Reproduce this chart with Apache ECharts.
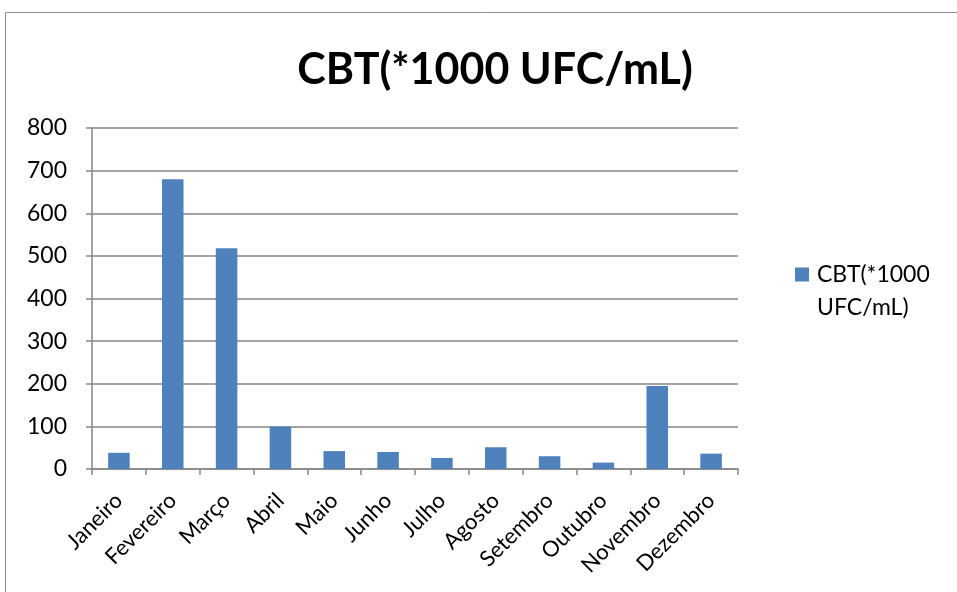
<!DOCTYPE html>
<html>
<head>
<meta charset="utf-8">
<script src="https://cdn.jsdelivr.net/npm/echarts@6/dist/echarts.min.js"></script>
<style>html,body{margin:0;padding:0;background:#fff}#c{width:957px;height:592px}</style>
</head>
<body>
<div id="c"></div>
<script>
const categories = ['Janeiro','Fevereiro','Março','Abril','Maio','Junho','Julho','Agosto','Setembro','Outubro','Novembro','Dezembro'];
const values = [38, 680, 518, 100, 42, 40, 26, 51, 30, 15, 195, 36];
const seriesName = 'CBT(*1000 UFC/mL)';
const yTicks = {min: 0, max: 800, interval: 100};

const FONT = 'Lato, "Open Sans", sans-serif';
const chart = echarts.init(document.getElementById('c'));
chart.setOption({
  animation: false,
  backgroundColor: '#fff',
  graphic: [{
    type: 'rect', shape: {x: 5.5, y: 12.5, width: 1200, height: 1200},
    style: {fill: 'none', stroke: '#8c8c8c', lineWidth: 1}, silent: true, z: -1
  }],
  title: {
    text: seriesName, left: 490, top: 44, textAlign: 'center',
    textStyle: {fontFamily: FONT, fontWeight: 'bold', fontSize: 43, color: '#000'}
  },
  legend: {
    left: 795, top: 225, orient: 'vertical', padding: 0,
    icon: 'rect', itemWidth: 14, itemHeight: 14, itemGap: 5,
    formatter: () => '\nCBT(*1000\nUFC/mL)',
    textStyle: {fontFamily: FONT, fontSize: 23, color: '#000', lineHeight: 33, padding: [0, 0, 0, 3]}
  },
  grid: {left: 92, right: 219, top: 128, bottom: 123, containLabel: false},
  xAxis: {
    type: 'category', data: categories,
    axisLine: {lineStyle: {color: '#868686', width: 1.5}},
    axisTick: {show: true, length: 6, alignWithLabel: false, lineStyle: {color: '#868686', width: 1.5}},
    axisLabel: {rotate: 45, interval: 0, margin: 28, fontFamily: FONT, fontSize: 22, color: '#000'}
  },
  yAxis: {
    type: 'value', min: yTicks.min, max: yTicks.max, interval: yTicks.interval,
    axisLine: {show: true, lineStyle: {color: '#868686', width: 1.5}},
    axisTick: {show: true, length: 6, lineStyle: {color: '#868686', width: 1.5}},
    splitLine: {show: true, lineStyle: {color: '#868686', width: 1.5}},
    axisLabel: {margin: 25, fontFamily: FONT, fontSize: 23, color: '#000'}
  },
  series: [{
    name: seriesName, type: 'bar', data: values, barWidth: '40%',
    itemStyle: {color: '#4F81BD'}
  }]
});
</script>
</body>
</html>
